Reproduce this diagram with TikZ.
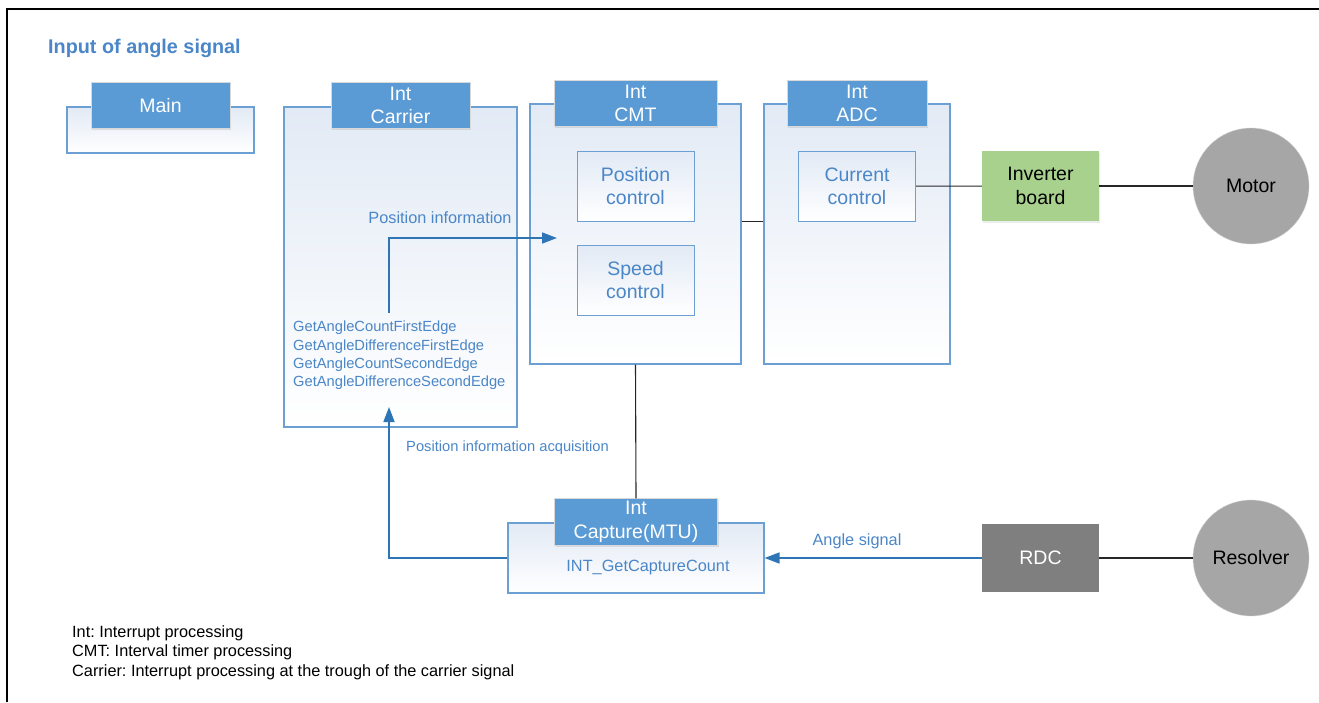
\documentclass[tikz,border=0pt]{standalone}
\usepackage{fontspec}
\setmainfont{Liberation Sans}
\usetikzlibrary{arrows.meta,positioning,shadows}
\definecolor{hdrblue}{HTML}{5B9BD5}
\definecolor{edgeblue}{HTML}{6C9FD3}
\definecolor{txtblue}{HTML}{4A86C8}
\definecolor{arrowblue}{HTML}{2E75B6}
\definecolor{pale}{HTML}{E2EAF5}
\definecolor{invgreen}{HTML}{A9D18E}
\definecolor{motorgray}{HTML}{A6A6A6}
\definecolor{rdcgray}{HTML}{7F7F7F}
\newcommand{\blockfont}{\fontsize{19.5}{23.5}\selectfont}
\newcommand{\notefont}{\fontsize{14.7}{18.3}\selectfont}
\newcommand{\labelfont}{\fontsize{16.3}{19.5}\selectfont}
\frenchspacing

\begin{document}
\begin{tikzpicture}[x=1pt, y=-1pt,
  panel/.style={draw=edgeblue, line width=1.1pt, top color=pale, bottom color=white, inner sep=0pt},
  hdrbox/.style={draw=gray!30, fill=hdrblue, text=white, font=\blockfont, align=center, inner sep=0pt,
    minimum height=46pt, drop shadow={opacity=0.2, shadow xshift=1pt, shadow yshift=-1.5pt}},
  ctrlbox/.style={panel, line width=1pt, minimum width=117pt, minimum height=70pt, text=txtblue, font=\blockfont, align=center},
  devbox/.style={minimum width=117pt, font=\blockfont, align=center, inner sep=0pt},
  devcircle/.style={circle, fill=motorgray, draw=gray!35, minimum size=116pt, font=\blockfont, inner sep=0pt},
  wire/.style={line width=1.1pt, black!85},
  flow/.style={line width=1.6pt, arrowblue, -{Triangle[length=15pt,width=11pt]}},
  lbl/.style={text=txtblue, font=\labelfont, inner sep=0pt}]
  \useasboundingbox (0,0) rectangle (1319,702);
  \draw[line width=2pt] (7,702) -- (7,8.5) -- (1319,8.5);

  \node[anchor=west, inner sep=0pt, text=txtblue, font=\fontsize{19.8}{23}\bfseries\selectfont] (title) at (48,48) {Input of angle signal};

  % task containers
  \node[panel, minimum width=187pt, minimum height=46pt] (main) at (160.5,130) {};
  \node[panel, minimum width=233pt, minimum height=320pt] (carrier) at (400.5,267) {};
  \node[panel, minimum width=211pt, minimum height=260pt] (cmt) at (635.5,234) {};
  \node[panel, minimum width=186pt, minimum height=260pt] (adc) at (857,234) {};
  \node[panel, minimum width=256pt, minimum height=70pt] (capture) at (636,558) {};

  \node[hdrbox, minimum width=139pt] (mainhdr) at ([yshift=1pt]main.north) {Main};
  \node[hdrbox, minimum width=139pt] (carrierhdr) at ([yshift=1pt]carrier.north) {Int\\Carrier};
  \node[hdrbox, minimum width=163pt] (cmthdr) at (cmt.north) {Int\\CMT};
  \node[hdrbox, minimum width=140pt] (adchdr) at (adc.north) {Int\\ADC};
  \node[hdrbox, minimum width=163pt, minimum height=47pt] (capturehdr) at ([yshift=0.5pt]capture.north) {Int\\Capture(MTU)};

  \node[ctrlbox, below=24pt of cmthdr] (posctrl) {Position\\control};
  \node[ctrlbox, below=23pt of posctrl] (spdctrl) {Speed\\control};
  \node[ctrlbox, below=24pt of adchdr] (curctrl) {Current\\control};

  \node[lbl, font=\notefont, anchor=west, align=left] (funcs) at (293,355.5) {GetAngleCountFirstEdge\\GetAngleDifferenceFirstEdge\\GetAngleCountSecondEdge\\GetAngleDifferenceSecondEdge};
  \node[lbl] (capfunc) at (648,567) {INT\_GetCaptureCount};

  % hardware
  \node[devbox, fill=invgreen, minimum height=70pt, drop shadow={opacity=0.15, shadow xshift=1pt, shadow yshift=-1.5pt}] (inverter) at (1040.5,186) {Inverter\\board};
  \node[devbox, fill=rdcgray, text=white, minimum height=68pt] (rdc) at (1040.5,558) {RDC};
  \node[devcircle] (motor) at (1251,186) {Motor};
  \node[devcircle] (resolver) at (1251,558) {Resolver};

  \coordinate (infostart) at (389,313);
  \coordinate (infoend) at (557,238);
  \coordinate (acqend) at (389,407);

  \draw[wire] (posctrl.south -| cmt.east) -- (posctrl.south -| adc.west);
  \draw[wire] (curctrl) -- (inverter);
  \draw[wire] (inverter) -- (motor);
  \draw[wire] (rdc) -- (resolver);
  \draw[wire] (cmt.south) -- (capturehdr.north);
  \draw[flow] (rdc.west) -- (capture.east);
  \draw[flow] (capture.west) -| (acqend);
  \draw[flow] (infostart) |- (infoend);

  \node[lbl] (anglelbl) at (857,541) {Angle signal};
  \node[lbl, font=\notefont, anchor=west] (acqlbl) at (406,448) {Position information acquisition};
  \node[lbl] (infolbl) at (440,218) {Position information};

  \node[anchor=west, align=left, font=\labelfont, inner sep=0pt, text=black] (legend) at (72,652.5)
    {Int: Interrupt processing\\CMT: Interval timer processing\\Carrier: Interrupt processing at the trough of the carrier signal};
\end{tikzpicture}
\end{document}
